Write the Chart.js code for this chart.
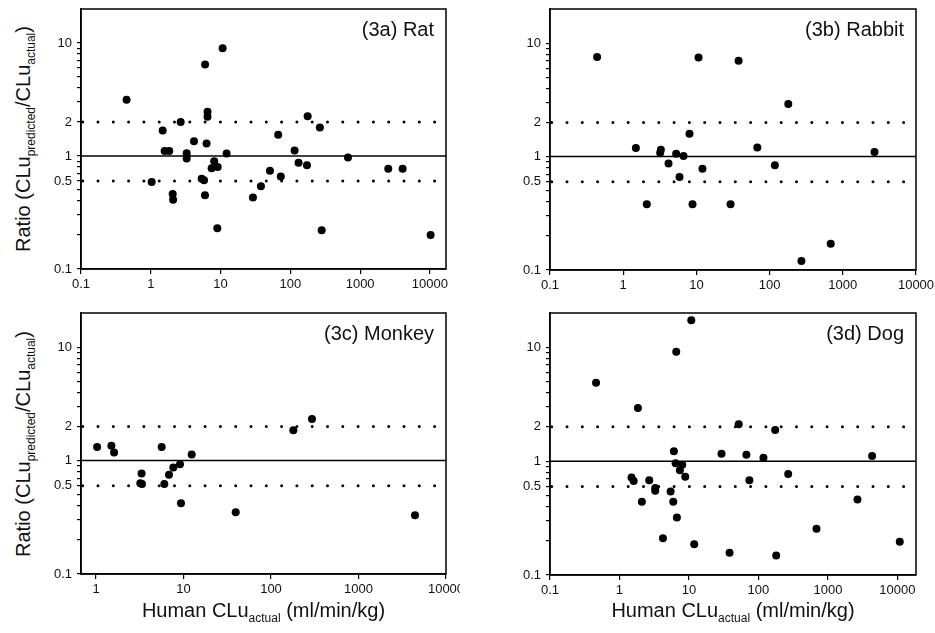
<!DOCTYPE html>
<html>
<head>
<meta charset="utf-8">
<script src="https://cdn.jsdelivr.net/npm/chart.js@4.4.0/dist/chart.umd.min.js"></script>
<style>
  body { margin: 0; background: #fff; font-family: "Liberation Sans", Arial, sans-serif; }
  #wrap { position: relative; width: 935px; height: 633px; overflow: hidden; }
  canvas { position: absolute; }
  .ytitle { position: absolute; width: 300px; height: 24px; line-height: 24px; text-align: center;
            font-size: 20px; color: #111; transform: rotate(-90deg); white-space: nowrap; }
  .xtitle { position: absolute; height: 24px; line-height: 24px; text-align: center;
            font-size: 20px; color: #111; white-space: nowrap; }
  sub { font-size: 12px; line-height: 0; }
</style>
</head>
<body>
<div id="wrap">
  <canvas id="rat" width="420" height="300" style="left:40px;top:0px"></canvas>
  <canvas id="rabbit" width="425" height="300" style="left:510px;top:0px"></canvas>
  <canvas id="monkey" width="420" height="305" style="left:40px;top:300px"></canvas>
  <canvas id="dog" width="425" height="305" style="left:510px;top:300px"></canvas>

  <div class="ytitle" style="left:-127px;top:127px">Ratio (CLu<sub>predicted</sub>/CLu<sub>actual</sub>)</div>
  <div class="ytitle" style="left:-127px;top:432px">Ratio (CLu<sub>predicted</sub>/CLu<sub>actual</sub>)</div>
  <div class="xtitle" style="left:81px;top:598px;width:365px">Human CLu<sub>actual</sub> (ml/min/kg)</div>
  <div class="xtitle" style="left:550px;top:598px;width:366px">Human CLu<sub>actual</sub> (ml/min/kg)</div>
</div>

<script type="text/javascript">

    // tick labels
    var xTickValues = [0.1, 1, 10, 100, 1000, 10000]
    var yTickValues = [0.1, 0.6, 1, 2, 10]
    var yTickLabels = ['0.1', '0.5', '1', '2', '10']

    // reference lines (ratio)
    var unityLine = 1
    var upperLine = 2
    var lowerLine = 0.6

    // (3a) Rat
    var ratX = [0.45, 10.7, 6.0, 6.5, 6.5, 2.68, 1.48, 4.16, 6.3, 1.58, 1.84, 3.27, 3.27, 12.2, 8.1, 9.1, 7.45,
                1.03, 5.36, 5.8, 2.06, 2.09, 5.98, 8.98, 29.1, 37.9, 51, 73, 67, 115, 131, 173, 177, 265, 281,
                669, 2530, 4060, 10230]
    var ratY = [3.15, 9.0, 6.44, 2.46, 2.22, 2.0, 1.68, 1.35, 1.29, 1.11, 1.11, 1.06, 0.95, 1.05, 0.90, 0.80, 0.78,
                0.59, 0.63, 0.61, 0.46, 0.41, 0.45, 0.23, 0.43, 0.54, 0.74, 0.66, 1.54, 1.12, 0.87, 0.83, 2.25, 1.79, 0.22,
                0.97, 0.77, 0.77, 0.20]

    // (3b) Rabbit
    var rabbitX = [0.44, 10.7, 37.7, 180, 8.05, 1.49, 3.27, 3.2, 5.29, 6.67, 68, 2710, 4.16, 12.1, 118, 5.88,
                   2.1, 8.85, 29.3, 684, 272]
    var rabbitY = [7.54, 7.49, 7.0, 2.91, 1.59, 1.19, 1.15, 1.08, 1.06, 1.01, 1.20, 1.10, 0.87, 0.78, 0.84, 0.66,
                   0.38, 0.38, 0.38, 0.17, 0.12]

    // (3c) Monkey
    var monkeyX = [1.03, 1.50, 1.61, 5.63, 12.4, 3.32, 3.21, 3.35, 6.04, 6.83, 7.65, 9.12, 9.36, 39.5, 180, 294, 4420]
    var monkeyY = [1.32, 1.35, 1.18, 1.32, 1.13, 0.77, 0.63, 0.62, 0.62, 0.75, 0.87, 0.93, 0.42, 0.35, 1.85, 2.33, 0.33]

    // (3d) Dog
    var dogX = [0.46, 10.8, 6.56, 1.84, 52, 174, 6.07, 29.4, 67, 118, 4320, 6.42, 8.0, 7.4, 8.84, 1.49, 1.6,
                2.68, 3.27, 3.27, 5.44, 74, 268, 2.1, 5.94, 6.7, 4.22, 11.9, 38.4, 180, 684, 2660, 10800]
    var dogY = [4.89, 17.3, 9.13, 2.93, 2.11, 1.88, 1.22, 1.16, 1.14, 1.07, 1.11, 0.96, 0.93, 0.83, 0.73, 0.72, 0.67,
                0.68, 0.58, 0.55, 0.54, 0.68, 0.77, 0.44, 0.44, 0.32, 0.21, 0.186, 0.157, 0.148, 0.255, 0.46, 0.196]

    var FONT = '"Liberation Sans", Arial, sans-serif'

    // minor tick marks on the ratio axis: 0.1..0.9, 1..9, 10
    var yMarks = []
    for (var p = -1; p <= 1; p++) {
        for (var k = 1; k <= 9; k++) {
            var v = +(k * Math.pow(10, p)).toPrecision(3)
            if (v <= 10) yMarks.push(v)
        }
    }
    yTickValues.forEach(function (v) { if (yMarks.indexOf(v) < 0) yMarks.push(v) })
    yMarks.sort(function (a, b) { return a - b })

    // box round the plot and the panel label
    var framePlugin = {
        id: 'frame',
        afterDraw: function (chart, args, opts) {
            var ctx = chart.ctx, a = chart.chartArea
            ctx.save()
            ctx.strokeStyle = '#000'
            ctx.lineWidth = 1.5
            ctx.strokeRect(a.left, a.top, a.right - a.left, a.bottom - a.top)
            ctx.font = '20px ' + FONT
            ctx.fillStyle = '#111'
            ctx.textAlign = 'right'
            ctx.textBaseline = 'middle'
            ctx.fillText(opts.text, a.right - 12, a.top + 21)
            ctx.restore()
        }
    }

    function dibujarPanel(id, xs, ys, xMin, xMax, label, pad) {
        var puntos = xs.map(function (x, i) { return { x: x, y: ys[i] } })
        var tramo = function (v) { return [{ x: xMin, y: v }, { x: xMax, y: v }] }
        var punteada = {
            showLine: true, pointRadius: 0, borderColor: '#000', borderWidth: 3,
            borderDash: [0, 15.3], borderDashOffset: 13.6, borderCapStyle: 'round'
        }

        new Chart(document.getElementById(id), {
            type: 'scatter',
            data: {
                datasets: [
                    { data: puntos, pointRadius: 4, pointBackgroundColor: '#000', pointBorderWidth: 0 },
                    { data: tramo(unityLine), showLine: true, pointRadius: 0, borderColor: '#000', borderWidth: 1.5 },
                    Object.assign({ data: tramo(upperLine) }, punteada),
                    Object.assign({ data: tramo(lowerLine) }, punteada)
                ]
            },
            options: {
                responsive: false,
                animation: false,
                devicePixelRatio: 1,
                layout: { padding: { top: pad.top, right: pad.right, left: 0, bottom: 0 } },
                plugins: {
                    legend: { display: false },
                    tooltip: { enabled: false },
                    frame: { text: label }
                },
                scales: {
                    x: {
                        type: 'logarithmic',
                        min: xMin,
                        max: xMax,
                        afterBuildTicks: function (s) {
                            s.ticks = xTickValues.filter(function (v) { return v >= xMin && v <= xMax })
                                                 .map(function (v) { return { value: v } })
                        },
                        afterFit: function (s) { s.height = pad.xh; s.paddingLeft = 0; s.paddingRight = 0 },
                        ticks: {
                            autoSkip: false, maxRotation: 0, padding: 3, color: '#111',
                            font: { size: 13, family: FONT },
                            callback: function (v) { return String(v) }
                        },
                        grid: { drawOnChartArea: false, tickLength: 5, color: '#000', lineWidth: 1.2 },
                        border: { color: '#000', width: 1.5 }
                    },
                    y: {
                        type: 'logarithmic',
                        min: 0.1,
                        max: 20,
                        afterBuildTicks: function (s) {
                            s.ticks = yMarks.map(function (v) { return { value: v } })
                        },
                        afterFit: function (s) { s.width = pad.yw; s.paddingTop = 0; s.paddingBottom = 0 },
                        ticks: {
                            autoSkip: false, padding: 5, color: '#111',
                            font: { size: 13, family: FONT },
                            callback: function (v) {
                                var i = yTickValues.indexOf(v)
                                return i < 0 ? '' : yTickLabels[i]
                            }
                        },
                        grid: { drawOnChartArea: false, tickLength: 4, color: '#000', lineWidth: 1.2 },
                        border: { color: '#000', width: 1.5 }
                    }
                }
            },
            plugins: [framePlugin]
        })
    }

    dibujarPanel('rat', ratX, ratY, 0.1, 17000, '(3a) Rat', { top: 9, right: 14, yw: 41, xh: 31 })
    dibujarPanel('rabbit', rabbitX, rabbitY, 0.1, 10000, '(3b) Rabbit', { top: 9, right: 19, yw: 40, xh: 30 })
    dibujarPanel('monkey', monkeyX, monkeyY, 0.674, 10000, '(3c) Monkey', { top: 13, right: 14, yw: 41, xh: 31 })
    dibujarPanel('dog', dogX, dogY, 0.1, 18500, '(3d) Dog', { top: 13, right: 19, yw: 40, xh: 30 })

</script>
</body>
</html>
